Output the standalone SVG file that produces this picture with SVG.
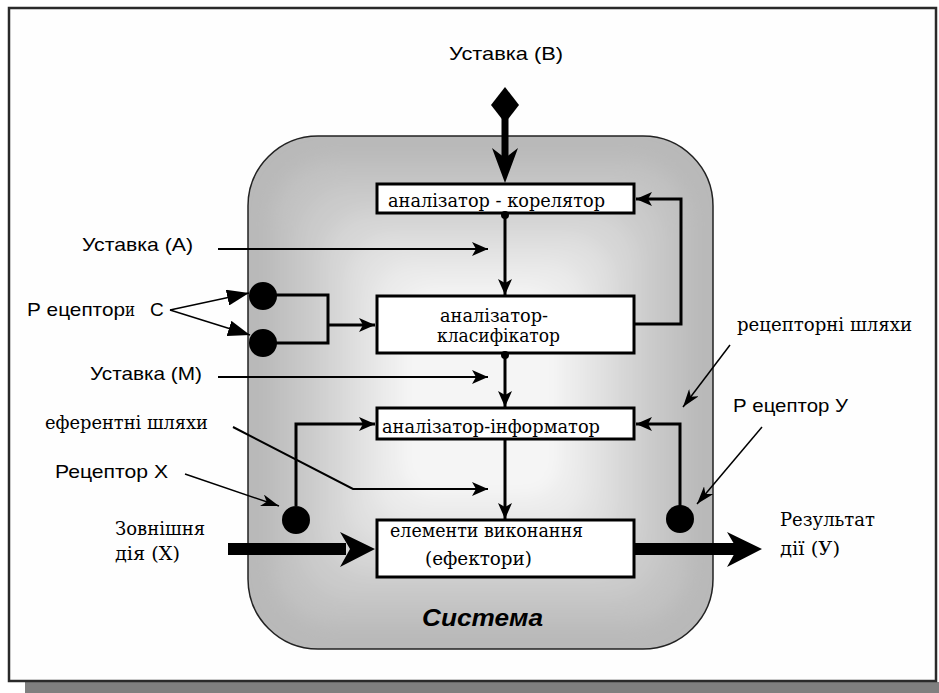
<svg xmlns="http://www.w3.org/2000/svg" width="939" height="693" viewBox="0 0 939 693">
  <style>
    .sans { font-family: "Liberation Sans", Arial, sans-serif; font-size: 19px; fill: #000; }
    .serif { font-family: "DejaVu Serif", "Liberation Serif", serif; font-size: 18px; fill: #000; }
    .box { fill: #fff; stroke: #000; stroke-width: 3; }
    .link { fill: none; stroke: #000; stroke-width: 3; }
    .thin { fill: none; stroke: #000; stroke-width: 2; }
    .ptr { fill: none; stroke: #000; stroke-width: 1.5; }
    .dot { fill: #000; }
    .title { font-family: "Liberation Sans", Arial, sans-serif; font-size: 24px; font-weight: bold; font-style: italic; fill: #000; }
  </style>
  <defs>
    <marker id="ah" markerUnits="userSpaceOnUse" markerWidth="16" markerHeight="14" refX="16" refY="7" orient="auto">
      <path d="M0,0 L16,7 L0,14 L4,7 Z" fill="#000"/>
    </marker>
    <marker id="ah-ptr" markerUnits="userSpaceOnUse" markerWidth="18" markerHeight="12" refX="18" refY="6" orient="auto">
      <path d="M0,0 L18,6 L0,12 L5,6 Z" fill="#000"/>
    </marker>
    <marker id="tri" markerUnits="userSpaceOnUse" markerWidth="22" markerHeight="16" refX="22" refY="8" orient="auto">
      <path d="M0,0 L22,8 L0,16 Z" fill="#000"/>
    </marker>
    <clipPath id="sysClip">
      <rect x="248" y="136" width="465" height="513" rx="70" ry="70"/>
    </clipPath>
    <filter id="soft" x="-10%" y="-10%" width="120%" height="120%">
      <feGaussianBlur stdDeviation="10"/>
    </filter>
  </defs>

  <!-- page frame with drop shadow -->
  <rect x="25" y="682" width="914" height="11" fill="#7f7f7f"/>
  <rect x="9" y="8" width="927" height="673" fill="#fefefe" stroke="#2a2a2a" stroke-width="2.5"/>

  <!-- system body: grey rounded block lightening towards the middle -->
  <g id="system">
    <rect x="248" y="136" width="465" height="513" rx="70" ry="70" fill="#b9b9b9"/>
    <g clip-path="url(#sysClip)">
      <g filter="url(#soft)">
        <rect x="273" y="161" width="415" height="463" rx="60" fill="#c2c2c2"/>
        <rect x="298" y="186" width="365" height="413" rx="55" fill="#cbcbcb"/>
        <rect x="323" y="211" width="315" height="363" rx="50" fill="#d6d6d6"/>
        <rect x="348" y="236" width="265" height="313" rx="45" fill="#e1e1e1"/>
        <rect x="373" y="261" width="215" height="263" rx="40" fill="#ebebeb"/>
        <rect x="398" y="286" width="165" height="213" rx="35" fill="#f5f5f5"/>
      </g>
    </g>
    <rect x="248" y="136" width="465" height="513" rx="70" ry="70" fill="none" stroke="#222" stroke-width="1.5"/>
    <text class="title" x="422" y="626" textLength="121" lengthAdjust="spacingAndGlyphs">Система</text>
  </g>

  <!-- processing blocks -->
  <g id="correlator">
    <rect class="box" x="377" y="184" width="257" height="29"/>
    <text class="serif" x="388" y="207" textLength="217" lengthAdjust="spacingAndGlyphs">аналізатор - корелятор</text>
  </g>
  <g id="classifier">
    <rect class="box" x="377" y="296" width="257" height="57"/>
    <text class="serif" x="440" y="322" textLength="108" lengthAdjust="spacingAndGlyphs">аналізатор-</text>
    <text class="serif" x="437" y="342" textLength="123" lengthAdjust="spacingAndGlyphs">класифікатор</text>
  </g>
  <g id="informer">
    <rect class="box" x="377" y="408" width="257" height="31"/>
    <text class="serif" x="382" y="433" textLength="218" lengthAdjust="spacingAndGlyphs">аналізатор-інформатор</text>
  </g>
  <g id="effectors">
    <rect class="box" x="377" y="520" width="257" height="57"/>
    <text class="serif" x="390" y="537" textLength="193" lengthAdjust="spacingAndGlyphs">елементи виконання</text>
    <text class="serif" x="425" y="565" textLength="107" lengthAdjust="spacingAndGlyphs">(ефектори)</text>
  </g>

  <!-- receptors -->
  <g id="receptors-c">
    <circle class="dot" cx="263" cy="296" r="14"/>
    <circle class="dot" cx="263" cy="343" r="14"/>
  </g>
  <g id="receptor-x">
    <circle class="dot" cx="296" cy="520" r="14"/>
  </g>
  <g id="receptor-y">
    <circle class="dot" cx="680" cy="519" r="14"/>
  </g>

  <!-- external labels -->
  <g id="labels">
    <text class="sans" x="449" y="60" textLength="114" lengthAdjust="spacingAndGlyphs">Уставка (В)</text>
    <text class="sans" x="82" y="251" textLength="111" lengthAdjust="spacingAndGlyphs">Уставка (А)</text>
    <text class="sans" x="27" y="316" textLength="98" lengthAdjust="spacingAndGlyphs">Р ецептор</text>
    <text class="serif" x="125" y="316" textLength="10" lengthAdjust="spacingAndGlyphs">и</text>
    <text class="sans" x="150" y="316">С</text>
    <text class="sans" x="90" y="380" textLength="112" lengthAdjust="spacingAndGlyphs">Уставка (М)</text>
    <text class="serif" x="45" y="429" textLength="163" lengthAdjust="spacingAndGlyphs">еферентні шляхи</text>
    <text class="sans" x="55" y="478" textLength="113" lengthAdjust="spacingAndGlyphs">Рецептор Х</text>
    <text class="serif" x="115" y="535" textLength="90" lengthAdjust="spacingAndGlyphs">Зовнішня</text>
    <text class="serif" x="115" y="560" textLength="65" lengthAdjust="spacingAndGlyphs">дія (Х)</text>
    <text class="serif" x="780" y="526" textLength="95" lengthAdjust="spacingAndGlyphs">Результат</text>
    <text class="serif" x="780" y="555" textLength="60" lengthAdjust="spacingAndGlyphs">дії (У)</text>
    <text class="serif" x="737" y="331" textLength="175" lengthAdjust="spacingAndGlyphs">рецепторні шляхи</text>
    <text class="sans" x="733" y="412" textLength="115" lengthAdjust="spacingAndGlyphs">Р ецептор У</text>
  </g>

  <!-- connectors -->
  <g id="connectors">
    <!-- set point B: diamond source, thick shaft, barbed head -->
    <polygon points="505,87 519,105 505,123 491,105" fill="#000"/>
    <line x1="505" y1="110" x2="505" y2="160" stroke="#000" stroke-width="7"/>
    <polygon points="505,183 492,148 505,158 518,148" fill="#000"/>

    <!-- chain between blocks -->
    <circle class="dot" cx="505" cy="215" r="4"/>
    <circle class="dot" cx="505" cy="355" r="4"/>
    <line class="link" x1="505" y1="213" x2="505" y2="295" marker-end="url(#ah)"/>
    <line class="link" x1="505" y1="353" x2="505" y2="407" marker-end="url(#ah)"/>
    <line class="link" x1="505" y1="439" x2="505" y2="519" marker-end="url(#ah)"/>

    <!-- set points A and M, efferent path -->
    <line class="thin" x1="218" y1="249" x2="488" y2="249" marker-end="url(#ah)"/>
    <line class="thin" x1="218" y1="377" x2="488" y2="377" marker-end="url(#ah)"/>
    <polyline class="thin" points="233,427 353,489 488,489" marker-end="url(#ah)"/>

    <!-- feedback loops -->
    <polyline class="link" points="634,324 681,324 681,199 636,199" marker-end="url(#ah)"/>
    <polyline class="link" points="680,506 680,424 636,424" marker-end="url(#ah)"/>
    <polyline class="link" points="296,506 296,424 375,424" marker-end="url(#ah)"/>

    <!-- receptor C pair into classifier -->
    <polyline class="link" points="263,295 328,295 328,343 263,343"/>
    <line class="link" x1="328" y1="325" x2="375" y2="325" marker-end="url(#ah)"/>

    <!-- label pointers -->
    <line class="ptr" x1="170" y1="310" x2="249" y2="293" marker-end="url(#tri)"/>
    <line class="ptr" x1="170" y1="310" x2="250" y2="335" marker-end="url(#tri)"/>
    <line class="ptr" x1="185" y1="474" x2="279" y2="506" marker-end="url(#ah-ptr)"/>
    <line class="ptr" x1="762" y1="427" x2="697" y2="504" marker-end="url(#ah-ptr)"/>
    <line class="ptr" x1="730" y1="345" x2="683" y2="407" marker-end="url(#ah-ptr)"/>

    <!-- external action in, result out -->
    <rect x="228" y="543" width="118" height="12" fill="#000"/>
    <polygon points="375,549 340,532 350,549 340,567" fill="#000"/>
    <rect x="634" y="543" width="103" height="12" fill="#000"/>
    <polygon points="762,549 727,532 737,549 727,567" fill="#000"/>
  </g>
</svg>
